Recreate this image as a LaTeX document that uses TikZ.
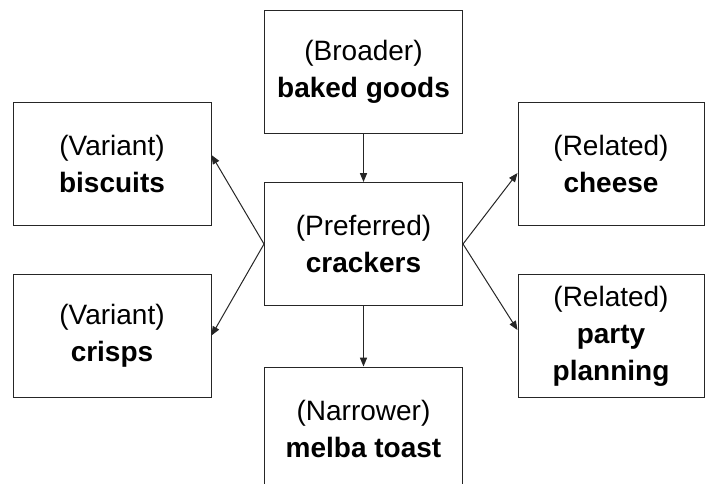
\documentclass[tikz,border=0pt]{standalone}
\usepackage{fontspec}
\setmainfont{Liberation Sans}
\usetikzlibrary{arrows.meta,calc}

\begin{document}
\begin{tikzpicture}[
		x=0.5pt, y=-0.5pt,
		termine/.style={draw=black!85, line width=0.5pt, fill=white, align=center, inner sep=0pt,
			font=\fontsize{14}{18.5}\selectfont, minimum height=61.5pt},
		largo/.style={termine, minimum width=99pt},
		stretto/.style={termine, minimum width=93pt},
		rel/.style={-{Triangle[length=4.5pt,width=3.6pt]}, line width=0.5pt, black!85},
		]
		
		\useasboundingbox (0,0) rectangle (705,483);
		
		%%=== termini ==============================================
		\node[largo]   (pref)   at (363.5,244)   {(Preferred)\\\textbf{crackers}};
		\node[largo]   (broad)  at (363.5,72)    {(Broader)\\\textbf{baked goods}};
		\node[largo]   (narrow) at (363.5,428.5) {(Narrower)\\\textbf{melba toast}};
		\node[largo]   (bisc)   at (112,163.5)   {(Variant)\\\textbf{biscuits}};
		\node[largo]   (crisp)  at (112,335.5)   {(Variant)\\\textbf{crisps}};
		\node[stretto] (cheese) at (611,163.5)   {(Related)\\\textbf{cheese}};
		\node[stretto] (party)  at (611,336)     {(Related)\\\textbf{party}\\\textbf{planning}};
		
		%%=== relazioni ============================================
		\draw[rel] (broad.south) -- (pref.north);
		\draw[rel] (pref.south) -- (narrow.north);
		\draw[rel] (pref.west) -- ($(bisc.east)+(0,-8.5)$);
		\draw[rel] (pref.west) -- (crisp.east);
		\draw[rel] (pref.east) -- ($(cheese.west)+(0,9.5)$);
		\draw[rel] (pref.east) -- ($(party.west)+(0,-6)$);
		
	\end{tikzpicture}
\end{document}
